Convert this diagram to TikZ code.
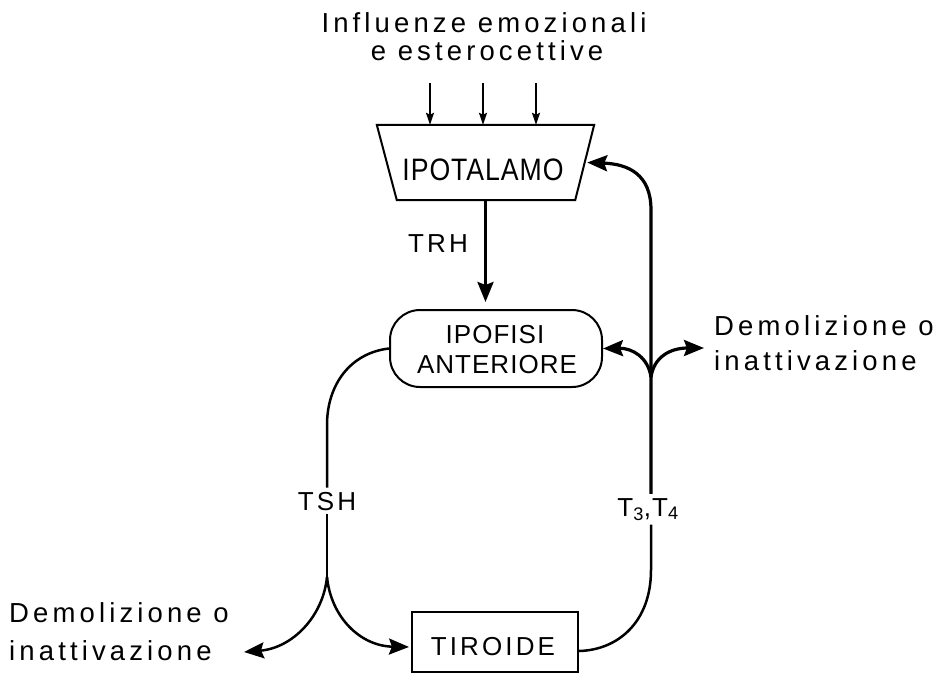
\documentclass[tikz,border=0pt]{standalone}
\usepackage{fontspec}
\setmainfont{Liberation Sans}
\newfontfamily\lowf[LetterSpace=15]{Liberation Sans}
\newfontfamily\capf[LetterSpace=4]{Liberation Sans}
\newfontfamily\spf[LetterSpace=12]{Liberation Sans}
\newfontfamily\bigf[LetterSpace=3,FakeStretch=0.86]{Liberation Sans}
\usetikzlibrary{arrows.meta,calc}
\tikzset{
  lowtxt/.style={font=\lowf\fontsize{27.5}{30}\selectfont, inner sep=0pt},
  captxt/.style={font=\capf\fontsize{26}{30}\selectfont, inner sep=0pt},
  sptxt/.style={font=\spf\fontsize{26}{30}\selectfont, inner sep=4pt},
  bigtxt/.style={font=\bigf\fontsize{31}{34}\selectfont, inner sep=0pt},
  boxline/.style={line width=2pt},
  conn/.style={line width=2.5pt},
  fat/.style={line width=3.2pt},
  bigtip/.style={-{Stealth[length=20pt,width=16pt,inset=3pt]}},
  smalltip/.style={-{Stealth[length=12pt,width=8pt,inset=2pt]}, line width=1.8pt},
}
\begin{document}
\begin{tikzpicture}[x=1pt,y=-1pt]
\useasboundingbox (0,0) rectangle (940,673);

% top texts
\node[lowtxt, anchor=base] (infl) at (484,32) {Influenze emozionali};
\node[lowtxt, anchor=base] (ester) at (487,60) {e esterocettive};

% hypothalamus (trapezoid)
\node[minimum width=217pt, minimum height=75pt, inner sep=0pt] (ipot) at (485.5,162.5) {};
\draw[boxline] (ipot.north west) -- (ipot.north east) -- ([xshift=-19pt]ipot.south east) -- ([xshift=20pt]ipot.south west) -- cycle;
\node[bigtxt, anchor=base] (ipotlbl) at (483,180) {IPOTALAMO};

% input arrows
\coordinate (in1) at (430,83);
\coordinate (in2) at (483,83);
\coordinate (in3) at (536,83);
\draw[smalltip] (in1) -- (in1 |- ipot.north);
\draw[smalltip] (in2) -- (in2 |- ipot.north);
\draw[smalltip] (in3) -- (in3 |- ipot.north);

% anterior pituitary
\node[draw, boxline, rounded corners=30pt, minimum width=212pt, minimum height=77pt, inner sep=0pt] (ipof) at (496,348.5) {};
\node[captxt, anchor=base] (ipof1) at (495,343) {IPOFISI};
\node[captxt, anchor=base] (ipof2) at (497,373) {ANTERIORE};

% thyroid
\node[draw, boxline, minimum width=166pt, minimum height=60pt, inner sep=0pt] (tir) at (495,642) {};
\node[captxt, font=\spf\fontsize{26}{30}\selectfont, anchor=base] (tirlbl) at (493,655) {TIROIDE};

% TRH
\node[sptxt, anchor=base] (trh) at (438,252) {TRH};
\draw[fat, bigtip, shorten >=7pt] (ipot.south) -- (ipot.south |- ipof.north);

% TSH
\node[sptxt, anchor=base] (tsh) at (327,510) {TSH};
\draw[conn] (ipof.west) .. controls (350,353) and (327,385) .. (327,425) -- (tsh.north);
\coordinate (tb) at (327,577);
\draw[conn] (tsh.south) -- (tb);
\draw[conn, bigtip, shorten >=2pt] (tb) .. controls (331,617) and (360,646) .. ([yshift=-5pt]tir.west);
\coordinate (dl) at (244,652);
\draw[conn, bigtip] (tb) .. controls (323,617) and (292,648) .. (dl);

% left texts
\node[lowtxt, anchor=base west] (dem1a) at (9,622) {Demolizione o};
\node[lowtxt, anchor=base west] (dem1b) at (9,660) {inattivazione};

% T3, T4 feedback
\node[captxt, inner sep=4pt, anchor=base] (t34) at (648,516) {T\textsubscript{3},T\textsubscript{4}};
\coordinate (fb) at (651,377);
\coordinate (ipotR) at ([xshift=-7pt]ipot.east);
\draw[fat, bigtip] (fb |- t34.north) -- (651,210) .. controls (651,174) and (628,164) .. (ipotR);
\draw[fat, bigtip] (fb) .. controls (648,357) and (632,348) .. (ipof.east);
\coordinate (dr) at (704,348);
\draw[fat, bigtip] (fb) .. controls (654,357) and (670,348) .. (dr);
\draw[conn] (fb |- t34.south) -- (651,570) .. controls (651,622) and (618,650) .. ([yshift=-9pt]tir.east);

% right texts
\node[lowtxt, anchor=base west] (dem2a) at (714,335) {Demolizione o};
\node[lowtxt, anchor=base west] (dem2b) at (714,370) {inattivazione};
\end{tikzpicture}
\end{document}
